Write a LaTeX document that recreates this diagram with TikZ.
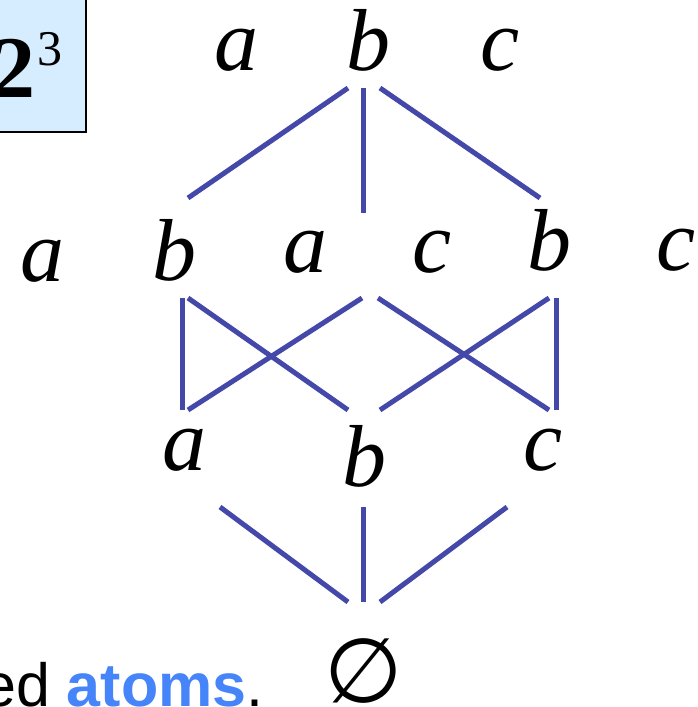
\documentclass[tikz,border=0pt]{standalone}
\usepackage{fontspec}
\setmainfont{Liberation Serif}
\newfontfamily\arialfont{Liberation Sans}
\newfontfamily\symfont{DejaVu Sans}
\definecolor{edgeblue}{RGB}{68,72,168}
\definecolor{boxfill}{RGB}{214,236,255}
\definecolor{atomblue}{RGB}{70,132,250}
\begin{document}
\begin{tikzpicture}[x=1pt,y=-1pt,
  lbl/.style={anchor=base,inner sep=0pt,font=\fontsize{88}{90}\selectfont\itshape},
  edge/.style={draw=edgeblue,line width=5pt}]
\useasboundingbox (0,0) rectangle (698,707);
\begin{scope}
\clip (0,0) rectangle (698,707);
% box with 2^3
\fill[boxfill,draw=black,line width=1.5pt] (-10,-10) rectangle (86,132);
\node[anchor=base east,inner sep=0pt,font=\fontsize{88}{90}\selectfont\bfseries] (two) at (36,97) {2};
\node[anchor=base west,inner sep=0pt,font=\fontsize{50}{52}\selectfont] (three) at (37,65) {3};
% top row
\node[lbl] (ta) at (236,70) {a};
\node[lbl] (tb) at (368,70) {b};
\node[lbl] (tc) at (500,70) {c};
% second row
\node[lbl] (m1) at (42,281) {a};
\node[lbl] (m2) at (174,280) {b};
\node[lbl] (m3) at (305,272) {a};
\node[lbl] (m4) at (432,272) {c};
\node[lbl] (m5) at (549,270) {b};
\node[lbl] (m6) at (676,270) {c};
% third row
\node[lbl] (la) at (184,470) {a};
\node[lbl] (lb) at (364,486) {b};
\node[lbl] (lc) at (543,470) {c};
% empty set
\node[anchor=center,inner sep=0pt,font=\symfont\fontsize{90}{92}\selectfont] (empty) at (364,671) {∅};
% bottom text
\node[anchor=base west,inner sep=0pt,font=\arialfont\fontsize{61}{63}\selectfont] (txt) at (-18,706) {ed \textcolor{atomblue}{\bfseries atoms}.};
\end{scope}
% edge end points
\coordinate (t1) at (348,88);  \coordinate (t2) at (363,88);  \coordinate (t3) at (380,88);
\coordinate (u1) at (188,198); \coordinate (u2) at (363,213); \coordinate (u3) at (540,198);
\coordinate (p1) at (182,298); \coordinate (p2) at (188,298); \coordinate (p3) at (362,298);
\coordinate (p4) at (378,298); \coordinate (p5) at (549,298); \coordinate (p6) at (556,298);
\coordinate (q1) at (182,410); \coordinate (q2) at (188,410); \coordinate (q3) at (348,410);
\coordinate (q4) at (380,410); \coordinate (q5) at (549,410); \coordinate (q6) at (556,410);
\coordinate (r1) at (220,507); \coordinate (r2) at (363,507); \coordinate (r3) at (507,507);
\coordinate (s1) at (348,602); \coordinate (s2) at (363,602); \coordinate (s3) at (380,602);
% top edges
\draw[edge] (t1) -- (u1);
\draw[edge] (t2) -- (u2);
\draw[edge] (t3) -- (u3);
% middle edges
\draw[edge] (p1) -- (q1);
\draw[edge] (p2) -- (q3);
\draw[edge] (p3) -- (q2);
\draw[edge] (p4) -- (q5);
\draw[edge] (p5) -- (q4);
\draw[edge] (p6) -- (q6);
% bottom edges
\draw[edge] (r1) -- (s1);
\draw[edge] (r2) -- (s2);
\draw[edge] (r3) -- (s3);
\end{tikzpicture}
\end{document}
